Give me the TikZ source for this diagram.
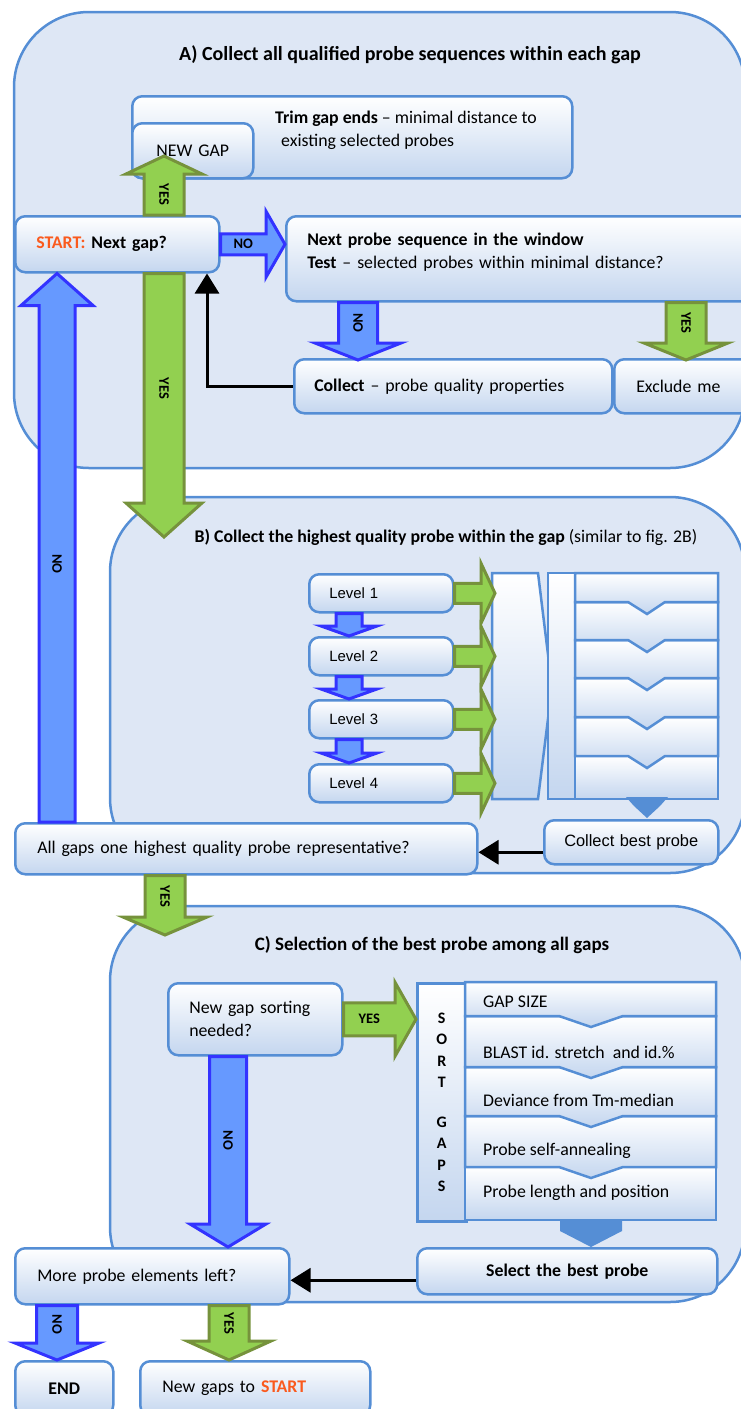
\documentclass[tikz,border=0pt]{standalone}
\usepackage{fontspec}
\setmainfont{Carlito}
\newfontfamily\levelfont{Liberation Sans}
\usetikzlibrary{calc,arrows.meta}

\definecolor{panelfill}{RGB}{222,231,245}
\definecolor{panelline}{RGB}{85,142,213}
\definecolor{boxbottom}{RGB}{196,214,239}
\definecolor{yesfill}{RGB}{146,208,80}
\definecolor{yesline}{RGB}{118,146,60}
\definecolor{nofill}{RGB}{102,153,255}
\definecolor{noline}{RGB}{51,51,255}
\definecolor{startred}{RGB}{250,90,30}

\newcommand{\boxfont}{\fontsize{17.8}{23}\selectfont}

% block arrow: [style]{from}{to}{shaft half}{head half}{head length}{label options}{label}
\newcommand{\blockarrow}[8][]{%
  \path ($(#3)!#6!(#2)$) coordinate (hb);
  \draw[#1] ($(#2)!#4!90:(#3)$) -- ($(hb)!#4!90:(#3)$) -- ($(hb)!#5!90:(#3)$) -- (#3)
    -- ($(hb)!#5!-90:(#3)$) -- ($(hb)!#4!-90:(#3)$) -- ($(#2)!#4!-90:(#3)$) -- cycle;
  \node[arrowtext,#7] at ($(#2)!0.5!(hb)$) {#8};
}

\tikzset{
  panel/.style={draw=panelline, line width=2.5pt, fill=panelfill, rounded corners=75pt},
  box/.style={draw=panelline, line width=2.5pt, rounded corners=10pt,
    top color=white, bottom color=boxbottom, anchor=north west,
    inner xsep=21pt, inner ysep=0pt, align=left, font=\boxfont},
  listpart/.style={draw=panelline, line width=2.5pt, top color=white, bottom color=boxbottom},
  yesarrow/.style={draw=yesline, fill=yesfill, line width=3pt},
  noarrow/.style={draw=noline, fill=nofill, line width=3pt},
  flowline/.style={line width=3pt, -{Triangle[length=20pt,width=24pt]}},
  arrowtext/.style={font=\fontsize{14.5}{14.5}\selectfont\bfseries, inner sep=0pt},
  paneltitle/.style={font=\boxfont},
  plaintext/.style={anchor=west, inner sep=0pt, align=left, font=\boxfont},
  levelbox/.style={box, minimum height=38pt, text width=104pt, inner xsep=20pt,
    font=\levelfont\fontsize{14.9}{18}\selectfont},
}

\begin{document}
\begin{tikzpicture}[x=1pt,y=-1pt]
\useasboundingbox (0,0) rectangle (741,1409);

% panels
\draw[panel] (14,12) rectangle (745,468);
\draw[panel] (110,497) rectangle (745,873);
\draw[panel] (110,906) rectangle (745,1302);

\node[paneltitle, font=\fontsize{20}{24}\selectfont] (titleA) at (410,55) {\textbf{A) Collect all qualified probe sequences within each gap}};
\node[paneltitle] (titleB) at (446,537) {\textbf{B) Collect the highest quality probe within the gap} (similar to fig. 2B)};
\node[paneltitle, font=\fontsize{19}{23}\selectfont] (titleC) at (432,945) {\textbf{C) Selection of the best probe among all gaps}};

% A
\node[box, minimum width=440pt, minimum height=82pt] (trim) at (131,95) {};
\node[plaintext] (trimtext) at (275,130) {\textbf{Trim gap ends} – minimal distance to\\\hspace*{6pt}existing selected probes};
\node[box, minimum height=55pt, text width=79pt, align=center] (newgap) at (131,122) {NEW GAP};
\node[box, minimum height=56pt, text width=162pt] (start) at (14,215) {\textbf{\color{startred}START:} \textbf{Next gap?}};
\node[box, minimum height=85pt, text width=428pt] (probe) at (285,215) {\textbf{Next probe sequence in the window}\\\textbf{Test} – selected probes within minimal distance?\\[-6pt]\mbox{}};
\node[box, minimum height=54pt, text width=278pt, inner xsep=20pt] (collect) at (293,358) {\textbf{Collect} – probe quality properties};
\node[box, minimum height=54pt, text width=98pt, inner xsep=22pt] (exclude) at (613,358) {Exclude me};

% B
\node[levelbox] (level1) at (308,573) {Level 1};
\node[levelbox] (level2) at (308,636) {Level 2};
\node[levelbox] (level3) at (308,699) {Level 3};
\node[levelbox] (level4) at (308,763) {Level 4};

\draw[listpart] (492,573) -- (538,573) -- (552,687) -- (538,799) -- (492,799) -- cycle;
\draw[listpart] (548,573) rectangle (575,799);
\draw[listpart] (575,756) rectangle (718,799);
\foreach \ya/\yb in {717/756,678/717,640/678,602/640,573/602}
  {\draw[listpart] (575,\ya) -- (718,\ya) -- (718,\yb) -- (665,\yb) -- (647,\yb+12) -- (628,\yb) -- (575,\yb) -- cycle;}
\fill[panelline] (626,797) -- (668,797) -- (660,806) -- (647,818) -- (634,806) -- cycle;

\node[box, minimum height=44pt, text width=164pt, inner xsep=5pt, align=center, font=\levelfont\fontsize{16.4}{20}\selectfont] (best) at (543,819) {Collect best probe};
\node[box, minimum height=51pt, text width=418pt, inner xsep=22pt] (allgaps) at (14,822) {All gaps one highest quality probe representative?};

% C
\node[box, minimum height=72pt, text width=132pt] (sortq) at (167,982) {New gap sorting\\needed?};
\node[box, rounded corners=0pt, minimum height=238pt, text width=49pt, inner xsep=0pt, align=center,
  font=\fontsize{16}{21.5}\selectfont\bfseries] (sortbar) at (416,982) {S\\O\\R\\T\\[18pt]G\\A\\P\\S};
\draw[listpart] (465,1167) rectangle (716,1220);
\foreach \ya/\yb in {1116/1167,1067/1116,1016/1067,982/1016}
  {\draw[listpart] (465,\ya) -- (716,\ya) -- (716,\yb) -- (623,\yb) -- (591,\yb+11) -- (559,\yb) -- (465,\yb) -- cycle;}
\fill[panelline] (560,1219) -- (622,1219) -- (622,1231) -- (591,1247) -- (560,1231) -- cycle;
\node[plaintext] (rowSize) at (483,1002) {GAP SIZE};
\node[plaintext] (rowBlast) at (483,1052) {BLAST id. stretch\ \ and id.\%};
\node[plaintext] (rowTm) at (483,1100) {Deviance from Tm-median};
\node[plaintext] (rowSelf) at (483,1151) {Probe self-annealing};
\node[plaintext] (rowLength) at (483,1193) {Probe length and position};

\node[box, minimum height=46pt, text width=258pt, align=center] (select) at (416,1247) {\textbf{Select the best probe}};
\node[box, minimum height=56pt, text width=230pt, inner xsep=22pt] (more) at (14,1247) {More probe elements left?};
\node[box, minimum height=54pt, text width=56pt, align=center] (endbox) at (14,1360) {\textbf{END}};
\node[box, minimum height=54pt, text width=186pt, inner xsep=22pt] (newgaps) at (139,1360) {New gaps to \textbf{\color{startred}START}};

% arrows
\coordinate (xLeft) at (57,0);
\coordinate (xYes) at (164,0);
\coordinate (xBack) at (207,0);
\coordinate (xLevel) at (349,0);
\coordinate (funnelIn) at (495,0);
\coordinate (xSortNo) at (228,0);
\coordinate (xNewGaps) at (229,0);
\coordinate (newgapTip) at (164,156);
\coordinate (bTip) at (164,537);
\coordinate (collectTip) at (358,360);
\coordinate (excludeTip) at (686,360);
\coordinate (cTip) at (165,935);

\draw[flowline] (collect.west) -| (start.south -| xBack);
\draw[flowline] ([yshift=-10pt]best.west) -- ([yshift=-10pt]allgaps.east |- best.west);
\draw[flowline] ([yshift=-9pt]select.west) -- ([yshift=-9pt]more.east |- select.west);

\blockarrow[yesarrow]{start.north -| xYes}{newgapTip}{20pt}{38pt}{18pt}{name=yesNewGap,rotate=-90}{YES}
\blockarrow[noarrow]{start.east}{probe.west |- start.east}{10.5pt}{33pt}{19pt}{name=noProbe}{NO}
\blockarrow[yesarrow]{start.south -| xYes}{bTip}{20pt}{38pt}{34pt}{name=yesB,rotate=-90}{YES}
\blockarrow[noarrow]{probe.south -| collectTip}{collectTip}{19.5pt}{43pt}{17pt}{name=noCollect,rotate=-90}{NO}
\blockarrow[yesarrow]{probe.south -| excludeTip}{excludeTip}{20pt}{42pt}{17pt}{name=yesExclude,rotate=-90}{YES}
\blockarrow[noarrow]{allgaps.north -| xLeft}{start.south -| xLeft}{18pt}{36pt}{32pt}{name=noStart,rotate=-90}{NO}
\foreach \a/\b in {level1/level2,level2/level3,level3/level4}
  {\blockarrow[noarrow]{\a.south -| xLevel}{\b.north -| xLevel}{13pt}{28pt}{10pt}{name=down\a}{}}
\foreach \n in {1,...,4}
  {\blockarrow[yesarrow]{level\n.east}{level\n.east -| funnelIn}{10pt}{30pt}{14pt}{name=right\n}{}}
\blockarrow[yesarrow]{allgaps.south -| cTip}{cTip}{20pt}{42pt}{18pt}{name=yesC,rotate=-90}{YES}
\blockarrow[yesarrow]{sortq.east}{sortbar.west |- sortq.east}{16.5pt}{37pt}{21pt}{name=yesSort}{YES}
\blockarrow[noarrow]{sortq.south -| xSortNo}{more.north -| xSortNo}{18.5pt}{38pt}{23pt}{name=noMore,rotate=-90}{NO}
\blockarrow[noarrow]{more.south -| xLeft}{endbox.north -| xLeft}{20.5pt}{42pt}{17pt}{name=noEnd,rotate=-90}{NO}
\blockarrow[yesarrow]{more.south -| xNewGaps}{newgaps.north -| xNewGaps}{20pt}{42pt}{19pt}{name=yesNewGaps,rotate=-90}{YES}
\end{tikzpicture}
\end{document}
